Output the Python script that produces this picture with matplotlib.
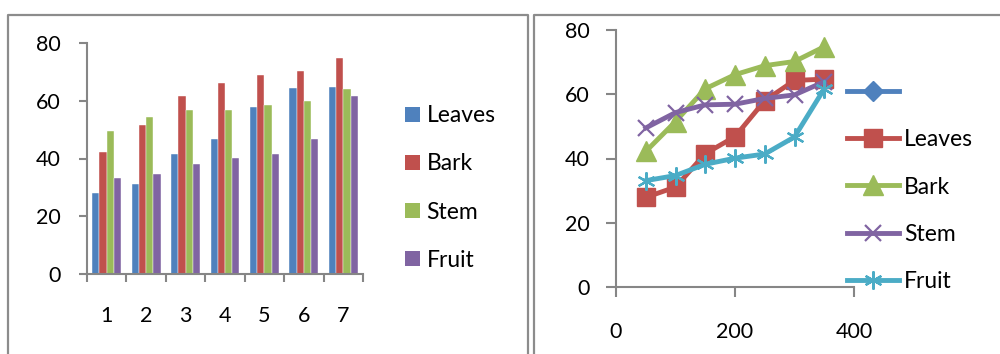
import numpy as np
import matplotlib
matplotlib.use('Agg')
import matplotlib.pyplot as plt
from matplotlib.lines import Line2D
from matplotlib.patches import Patch

plt.rcParams['font.family'] = ['Lato', 'DejaVu Sans']

# Sample measurements, shared by both charts
categories = [1, 2, 3, 4, 5, 6, 7]
distance = [50, 100, 150, 200, 250, 300, 350]
leaves = [27.9, 31.1, 41.5, 46.8, 58.0, 64.3, 64.7]
bark = [42.2, 51.5, 61.7, 66.1, 68.9, 70.2, 74.8]
stem = [49.5, 54.3, 56.7, 56.9, 58.7, 59.8, 63.9]
fruit = [33.1, 34.7, 38.2, 40.1, 41.4, 46.7, 61.7]
series_names = ['Leaves', 'Bark', 'Stem', 'Fruit']

BLUE = '#4F81BD'
RED = '#C0504D'
GREEN = '#9BBB59'
PURPLE = '#8064A2'
CYAN = '#4BACC6'
AXIS_GRAY = '#868686'
FRAME_GRAY = '#8c8c8c'
TICK_FS = 15.5
LEG_FS = 16.5

W, H = 1000, 354
fig = plt.figure(figsize=(W / 100, H / 100), dpi=100)


def px_axes(x0, y0, x1, y1):
    # axes rectangle from pixel coords (top-left origin)
    return fig.add_axes([x0 / W, (H - y1) / H, (x1 - x0) / W, (y1 - y0) / H])


def style_axes(ax):
    for side in ['top', 'right']:
        ax.spines[side].set_visible(False)
    for side in ['left', 'bottom']:
        ax.spines[side].set_color(AXIS_GRAY)
        ax.spines[side].set_linewidth(1.5)
    ax.tick_params(which='both', color=AXIS_GRAY, width=1.5,
                   labelsize=TICK_FS, direction='out')


# --- outer frames around both charts ---
def frame_line(xs, ys):
    fig.add_artist(Line2D([x / W for x in xs], [(H - y) / H for y in ys],
                          color=FRAME_GRAY, lw=1.6, solid_capstyle='butt'))


frame_line([8, 8, 528, 528], [H + 2, 15, 15, H + 2])
frame_line([534, 534, W + 2], [H + 2, 15, 15])

# --- clustered column chart ---
ax1 = px_axes(87, 43, 363, 274)
style_axes(ax1)
x = np.array(categories)
bw = 0.183
bar_colors = [BLUE, RED, GREEN, PURPLE]
for i, (vals, c) in enumerate(zip([leaves, bark, stem, fruit], bar_colors)):
    ax1.bar(x + (i - 1.5) * bw, vals, width=bw, color=c,
            edgecolor='white', linewidth=0.3)
ax1.set_xlim(0.5, 7.5)
ax1.set_ylim(0, 80)
ax1.set_yticks([0, 20, 40, 60, 80])
ax1.tick_params(axis='y', length=6, pad=13)
ax1.set_xticks(np.arange(0.5, 8.0, 1.0))
ax1.set_xticklabels([])
ax1.tick_params(axis='x', which='major', length=6)
ax1.set_xticks(x, minor=True)
ax1.set_xticklabels([str(c) for c in categories], minor=True)
ax1.tick_params(axis='x', which='minor', length=0, pad=23)

handles1 = [Patch(facecolor=c, edgecolor='none') for c in bar_colors]
fig.legend(handles1, series_names, loc='center left',
           bbox_to_anchor=(384 / W, (H - 188) / H), frameon=False,
           fontsize=LEG_FS, handlelength=0.65, handleheight=0.65,
           handletextpad=0.3, labelspacing=1.18)

# --- line chart with markers ---
ax2 = px_axes(616, 30, 854, 287)
style_axes(ax2)
line_specs = [
    (leaves, RED, 's', 13, 1.0),
    (bark, GREEN, '^', 14, 1.0),
    (stem, PURPLE, 'x', 12, 1.6),
    (fruit, CYAN, (6, 2, 0), 13, 1.6),
]
empty, = ax2.plot([], [], color=BLUE, lw=3.5, marker='D', markersize=10)
handles2 = [empty]
for vals, c, m, ms, mew in line_specs:
    h, = ax2.plot(distance, vals, color=c, lw=3.5, marker=m, markersize=ms,
                  markeredgewidth=mew, markerfacecolor=c, markeredgecolor=c,
                  clip_on=False)
    handles2.append(h)
ax2.set_xlim(0, 400)
ax2.set_ylim(0, 80)
ax2.set_xticks([0, 200, 400])
ax2.set_yticks([0, 20, 40, 60, 80])
ax2.tick_params(axis='y', length=7, pad=12)
ax2.tick_params(axis='x', length=7, pad=18)

fig.legend(handles2, [''] + series_names, loc='center left',
           bbox_to_anchor=(826 / W, (H - 187) / H), frameon=False,
           fontsize=LEG_FS, handlelength=2.3, handletextpad=0.2,
           labelspacing=1.15)

fig.savefig('out.png', dpi=100)
